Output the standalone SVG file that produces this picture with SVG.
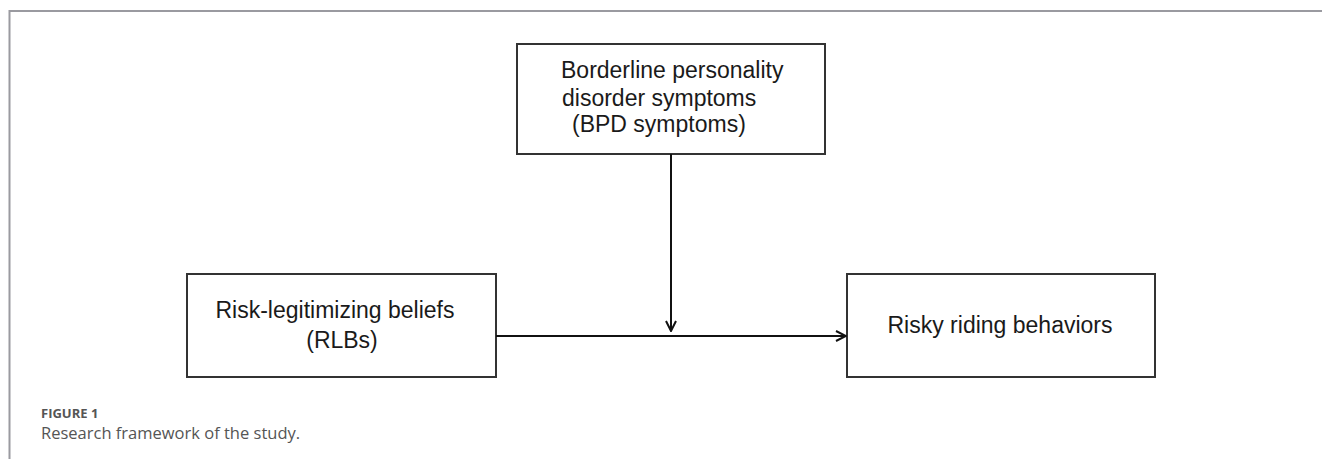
<svg xmlns="http://www.w3.org/2000/svg" width="1322" height="459" viewBox="0 0 1322 459">
<style>
.box{fill:#fff;stroke:#333;stroke-width:2}
.lbl{font-family:"Liberation Sans",Arial,sans-serif;font-size:23px;fill:#1a1a1a}
.conn{stroke:#111;stroke-width:2;fill:none}
.frame{stroke:#9a9aa0;stroke-width:2;fill:none}
</style>
<defs>
<marker id="arr" viewBox="0 0 12 12" refX="11" refY="6" markerWidth="12" markerHeight="12" markerUnits="userSpaceOnUse" orient="auto">
<path d="M1,1 L11,6 L1,11" fill="none" stroke="#111" stroke-width="2"/>
</marker>
</defs>
<rect width="1322" height="459" fill="#fff"/>
<path class="frame" d="M1322,11 H9.5 V459"/>
<g id="node-bpd">
<rect class="box" x="517" y="44" width="308" height="110"/>
<text class="lbl" x="561" y="78">Borderline personality</text>
<text class="lbl" x="562" y="106">disorder symptoms</text>
<text class="lbl" x="572" y="132">(BPD symptoms)</text>
</g>
<g id="node-rlb">
<rect class="box" x="187" y="274" width="309" height="103"/>
<text class="lbl" x="335" y="318" text-anchor="middle">Risk-legitimizing beliefs</text>
<text class="lbl" x="342" y="348" text-anchor="middle">(RLBs)</text>
</g>
<g id="node-rrb">
<rect class="box" x="847" y="274" width="308" height="103"/>
<text class="lbl" x="1000" y="333" text-anchor="middle">Risky riding behaviors</text>
</g>
<g id="connectors">
<line class="conn" x1="671" y1="154" x2="671" y2="331" marker-end="url(#arr)"/>
<line class="conn" x1="496" y1="336" x2="846" y2="336" marker-end="url(#arr)"/>
</g>
<g id="caption">
<text x="41" y="418" font-family="'Open Sans',sans-serif" font-size="13" font-weight="bold" fill="#555">FIGURE 1</text>
<text x="41" y="439" font-family="'Open Sans',sans-serif" font-size="16.5" fill="#555">Research framework of the study.</text>
</g>
</svg>
